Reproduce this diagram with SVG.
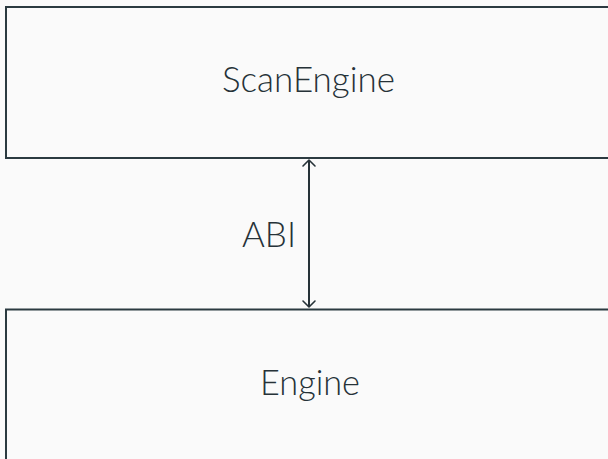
<svg xmlns="http://www.w3.org/2000/svg" width="608" height="459" viewBox="0 0 608 459">
  <style>
    .box { fill: #fafafa; stroke: #2b3a40; stroke-width: 2; }
    .label { font-family: Lato, "Liberation Sans", sans-serif; font-weight: 300; font-size: 36px; fill: #263238; }
    .link { stroke: #263238; stroke-width: 2; fill: none; }
    .head { stroke: #263238; stroke-width: 1.6; fill: none; stroke-linecap: round; stroke-linejoin: round; }
  </style>
  <rect width="608" height="459" fill="#fafafa"/>

  <g id="scan-engine">
    <rect class="box" x="6" y="7" width="612" height="151"/>
    <text class="label" x="308.5" y="92" text-anchor="middle" textLength="173" lengthAdjust="spacingAndGlyphs">ScanEngine</text>
  </g>

  <g id="engine">
    <rect class="box" x="6" y="309.5" width="612" height="160"/>
    <text class="label" x="310" y="395" text-anchor="middle" textLength="100" lengthAdjust="spacingAndGlyphs">Engine</text>
  </g>

  <g id="connectors">
    <line class="link" x1="309" y1="160" x2="309" y2="307"/>
    <polyline class="head" points="303,166 309,160 315,166"/>
    <polyline class="head" points="303,301 309,307 315,301"/>
    <text class="label" x="269" y="247" text-anchor="middle" textLength="54" lengthAdjust="spacingAndGlyphs">ABI</text>
  </g>
</svg>
